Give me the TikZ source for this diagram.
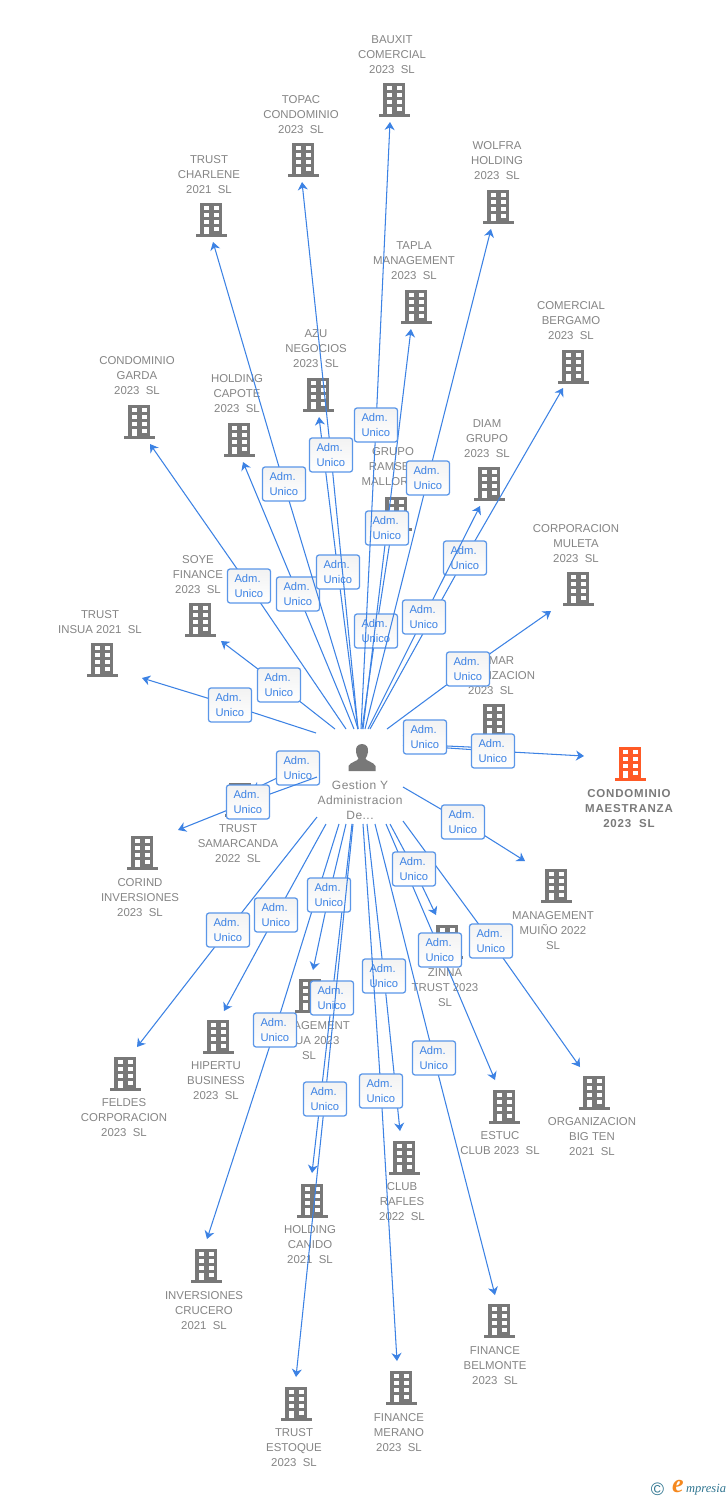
\documentclass[tikz,border=0pt]{standalone}
\usepackage{fontspec}
\setmainfont{Liberation Sans}
\newfontfamily\hubfont[LetterSpace=4]{Liberation Sans}
\newfontfamily\titlefont[LetterSpace=7]{Liberation Sans}
\newfontfamily\logoserif{Liberation Serif}
\usetikzlibrary{arrows.meta}
\definecolor{linkblue}{HTML}{3C82E4}
\definecolor{boxblue}{HTML}{5A96E8}
\definecolor{txtgray}{HTML}{858585}
\definecolor{bldgray}{HTML}{787878}
\definecolor{bldorange}{HTML}{FF5A26}
\definecolor{logoteal}{HTML}{2F7590}
\definecolor{logoorange}{HTML}{F5881F}
\tikzset{
  x=1pt,y=-1pt,
  rel/.style={draw=linkblue,line width=1.05pt,line join=round},
  reltip/.style={rel,-{Stealth[length=8pt,width=10pt,inset=2.5pt]}},
  lab/.style={draw=boxblue,line width=1.25pt,rounded corners=2.6pt,top color=black!5,middle color=white,bottom color=white,
    text=linkblue,font=\fontsize{11.2}{15}\selectfont,align=left,text width=29pt,inner xsep=7pt,inner ysep=0pt,
    minimum height=34pt,anchor=center},
  firmtxt/.style={text=txtgray,font=\fontsize{11.4}{15}\selectfont,align=center,inner sep=0pt,anchor=center},
  titletxt/.style={text=txtgray!92!black,font=\titlefont\bfseries\fontsize{11.5}{15}\selectfont,align=center,inner sep=0pt,anchor=center},
  hubtxt/.style={text=txtgray,font=\hubfont\fontsize{12}{15}\selectfont,align=center,inner sep=0pt,anchor=center},
  bld/.pic={
    \fill[pic actions] (-11,0) rectangle (11,31);
    \fill[pic actions] (-15.5,31) rectangle (15.5,34);
    \foreach \r in {3.3,10,16.7}{
      \fill[white] (-7.2,\r) rectangle (-2.2,\r+4);
      \fill[white] (2.8,\r) rectangle (7.8,\r+4);
    }
    \fill[white] (-7.2,23.6) rectangle (-2.2,31);
    \fill[white] (2.8,23.6) rectangle (7.8,28);
  }
}
\newcommand\firm[5][bldgray]{%
  \pic[fill=#1] at (#3) {bld};
  \node[firmtxt] (#2) at (#4) {#5};
}
\newcommand\link[4]{%
  \coordinate (s#1) at (#2);
  \coordinate (t#1) at (#3);
  \coordinate (c#1) at (#4);
  \draw[reltip] (s#1) -- (c#1) -- (t#1);
  \node[lab] (l#1) at (c#1) {Adm.\\Unico};
}
\begin{document}
\begin{tikzpicture}
\useasboundingbox (0,0) rectangle (728,1500);
\fill[white] (0,0) rectangle (728,1500);

% firms
\firm{bauxit}{394,83}{392,55}{BAUXIT\\COMERCIAL\\2023\ \ SL}
\firm{topac}{303,143}{301,115}{TOPAC\\CONDOMINIO\\2023\ \ SL}
\firm{charlene}{211,203}{209,175}{TRUST\\CHARLENE\\2021\ \ SL}
\firm{wolfra}{498,190}{497,161}{WOLFRA\\HOLDING\\2023\ \ SL}
\firm{tapla}{416,290}{414,261}{TAPLA\\MANAGEMENT\\2023\ \ SL}
\firm{bergamo}{573,350}{571,321}{COMERCIAL\\BERGAMO\\2023\ \ SL}
\firm{azu}{318,378}{316,349}{AZU\\NEGOCIOS\\2023\ \ SL}
\firm{garda}{139,405}{137,376}{CONDOMINIO\\GARDA\\2023\ \ SL}
\firm{capote}{239,423}{237,394}{HOLDING\\CAPOTE\\2023\ \ SL}
\firm{ramses}{396,497}{393,467}{GRUPO\\RAMSES\\MALLORCA}
\firm{diam}{489,467}{487,439}{DIAM\\GRUPO\\2023\ \ SL}
\firm{muleta}{578,572}{576,544}{CORPORACION\\MULETA\\2023\ \ SL}
\firm{soye}{200,603}{198,575}{SOYE\\FINANCE\\2023\ \ SL}
\firm{insua}{102,643}{100,622.5}{TRUST\\INSUA 2021\ \ SL}
\firm{mar}{494,704}{491,676}{\phantom{TEL}MAR\\ORGANIZACION\\2023\ \ SL}
\pic[fill=bldorange] at (630,747) {bld};
\node[titletxt] (maestranza) at (629,809) {CONDOMINIO\\MAESTRANZA\\2023\ \ SL};
\firm{samarcanda}{240,783}{238,844}{TRUST\\SAMARCANDA\\2022\ \ SL}
\firm{corind}{142,836}{140,898}{CORIND\\INVERSIONES\\2023\ \ SL}
\firm{muino}{556,869}{553,931}{MANAGEMENT\\MUIÑO 2022\\SL}
\firm{zinna}{447,925}{445,988}{ZINNA\\TRUST 2023\\SL}
\firm{agua}{310,979}{309,1041}{MANAGEMENT\\AGUA 2023\\SL}
\firm{hipertu}{218,1020}{216,1081}{HIPERTU\\BUSINESS\\2023\ \ SL}
\firm{feldes}{125,1057}{124,1118}{FELDES\\CORPORACION\\2023\ \ SL}
\firm{bigten}{594,1076}{592,1137}{ORGANIZACION\\BIG TEN\\2021\ \ SL}
\firm{estuc}{504,1090}{500,1143.5}{ESTUC\\CLUB 2023\ \ SL}
\firm{rafles}{404,1141}{402,1202}{CLUB\\RAFLES\\2022\ \ SL}
\firm{canido}{312,1184}{310,1245}{HOLDING\\CANIDO\\2021\ \ SL}
\firm{crucero}{206,1249}{204,1311}{INVERSIONES\\CRUCERO\\2021\ \ SL}
\firm{belmonte}{499,1304}{495,1366}{FINANCE\\BELMONTE\\2023\ \ SL}
\firm{merano}{401,1371}{399,1433}{FINANCE\\MERANO\\2023\ \ SL}
\firm{estoque}{296,1387}{294,1448}{TRUST\\ESTOQUE\\2023\ \ SL}

% hub
\fill[bldgray] (362,744) .. controls (357,744) and (355.5,748) .. (356,752)
  .. controls (356.3,755) and (357.5,757) .. (358.5,758.5)
  .. controls (358.5,761) and (350,762) .. (348.5,766)
  -- (348.5,771) -- (375.5,771) -- (375.5,766)
  .. controls (374,762) and (365.5,761) .. (365.5,758.5)
  .. controls (366.5,757) and (367.7,755) .. (368,752)
  .. controls (368.5,748) and (367,744) .. (362,744) -- cycle;
\node[hubtxt] (hub) at (360,800) {Gestion Y\\Administracion\\De...};

% links, in stacking order
\link{1}{316,733}{142,678}{230,705}
\link{2}{335,729}{221,641}{279,685}
\link{3}{346,729}{150,444}{249,586}
\link{4}{354,729}{243,462}{298,594}
\link{5}{358,729}{213,242}{284,484}
\link{6}{358,729}{319,417}{338,572}
\link{7}{358,729}{302,182}{331,455}
\link{8}{362,729}{391,535}{376,631}
\link{9}{363,729}{411,329}{387,528}
\link{10}{361,729}{390,122}{376,425}
\link{11}{365,729}{491,229}{428,478}
\link{12}{370,729}{563,388}{465,558}
\link{13}{368,729}{480,506}{424,617}
\link{14}{387,729}{551,611}{468,669}
% two links that share the gap between their labels
\coordinate (s15) at (403,735);
\coordinate (c15) at (425,745);
\coordinate (t15) at (480,747.5);
\coordinate (s16) at (403,745);
\coordinate (c16) at (493,751);
\coordinate (t16) at (584,756);
\draw[reltip] (s15) -- (c15) -- (t15);
\draw[reltip] (s16) -- (c16) -- (t16);
\node[lab] (l15) at (425,737) {Adm.\\Unico};
\node[lab] (l16) at (c16) {Adm.\\Unico};
\link{17}{317,777}{252,790}{298,768}
\link{18}{317,777}{178,830}{248,802}
\link{19}{403,787}{525,861}{463,822}
\link{20}{403,821}{580,1067}{491,941}
\link{21}{386,824}{495,1080}{440,950}
\link{22}{390,824}{436,915}{414,869}
\link{23}{375,824}{495,1295}{434,1058}
\link{24}{317,817}{137,1047}{228,930}
\link{25}{326,824}{224,1011}{276,915}
\link{26}{339,824}{207,1239}{275,1030}
\link{27}{352,824}{312,1173}{332,998}
\link{28}{346,824}{313,970}{329,895}
\link{29}{353,824}{296,1377}{325,1099}
\link{30}{367,824}{400,1131}{384,976}
\link{31}{363,824}{397,1361}{381,1091}

% logo
\node[text=logoteal,font=\fontsize{18}{18}\selectfont,inner sep=0pt] (copy) at (657.5,1489) {©};
\node[text=logoorange,font=\logoserif\itshape\bfseries\fontsize{26}{26}\selectfont,inner sep=0pt] (logoe) at (678,1486) {e};
\node[text=logoteal,font=\logoserif\itshape\fontsize{12.5}{12.5}\selectfont,inner sep=0pt,anchor=west] (logotext) at (686,1489.5) {mpresia};
\end{tikzpicture}
\end{document}
